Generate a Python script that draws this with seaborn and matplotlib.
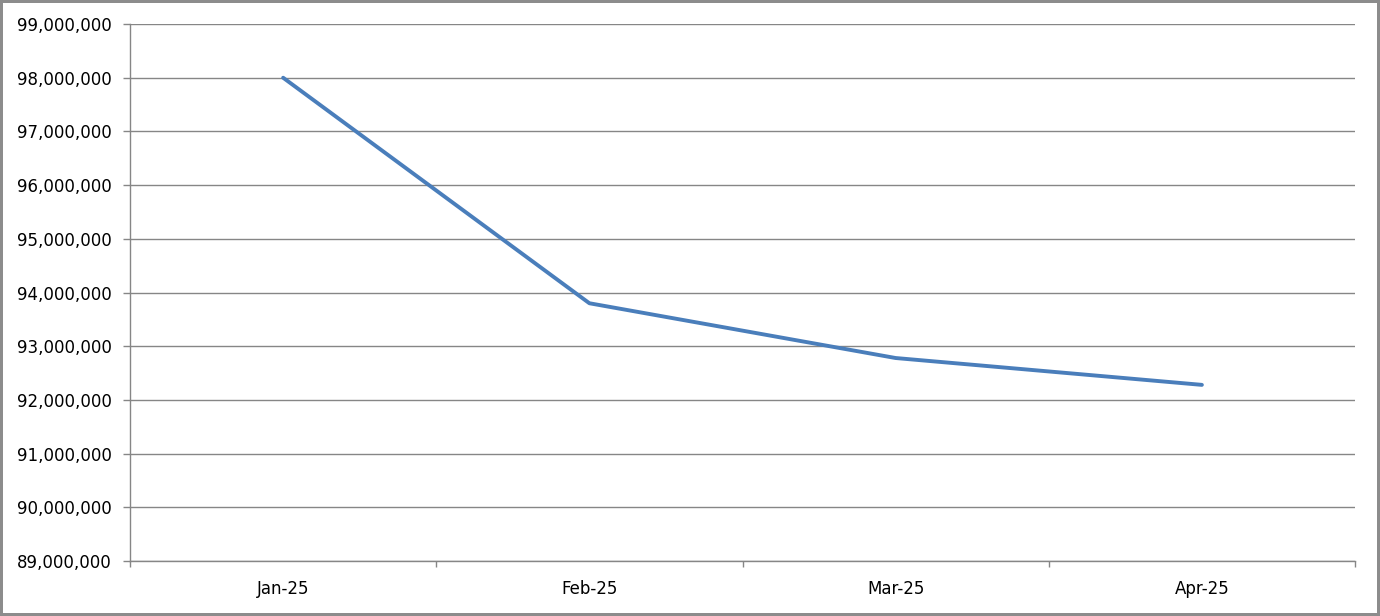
import pandas as pd
import matplotlib.pyplot as plt
import seaborn as sns
from matplotlib.ticker import FuncFormatter, FixedLocator

# data
months = ["Jan-25", "Feb-25", "Mar-25", "Apr-25"]
values = [98000000, 93800000, 92780000, 92280000]

df = pd.DataFrame({"month": months, "value": values})

sns.set_style("white")
plt.rcParams["font.family"] = ["DejaVu Sans"]

fig = plt.figure(figsize=(13.8, 6.16), dpi=100)
fig.patch.set_edgecolor("#8c8c8c")
fig.patch.set_linewidth(3)
ax = fig.add_axes([0.0942, 0.0893, 0.8877, 0.8717])

sns.lineplot(data=df, x="month", y="value", ax=ax, color="#4a7ebb", linewidth=2.8,
             sort=False)

ax.set_ylim(89000000, 99000000)
ax.set_yticks(range(89000000, 99000001, 1000000))
ax.yaxis.set_major_formatter(FuncFormatter(lambda v, p: f"{int(v):,}"))
ax.set_xlim(-0.5, len(months) - 0.5)
ax.xaxis.set_minor_locator(FixedLocator([i - 0.5 for i in range(len(months) + 1)]))

ax.grid(axis="y", color="#868686", linewidth=1)
ax.set_axisbelow(True)
for side in ["top", "right"]:
    ax.spines[side].set_visible(False)
for side in ["left", "bottom"]:
    ax.spines[side].set_color("#868686")
    ax.spines[side].set_linewidth(1)

ax.tick_params(axis="y", which="major", left=True, length=5, width=1, color="#868686",
               labelsize=12, labelcolor="black", pad=8)
ax.tick_params(axis="x", which="major", bottom=False, length=0, labelsize=12,
               labelcolor="black", pad=14)
ax.tick_params(axis="x", which="minor", bottom=True, length=4, width=1, color="#868686",
               direction="out")
ax.set_xlabel("")
ax.set_ylabel("")

fig.savefig("out.png", dpi=100, edgecolor=fig.get_edgecolor())
